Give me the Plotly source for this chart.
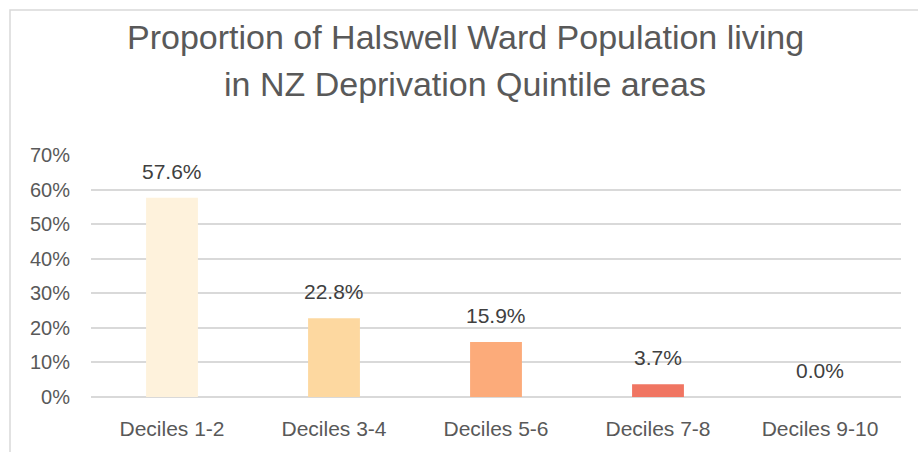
import plotly.graph_objects as go

categories = ["Deciles 1-2", "Deciles 3-4", "Deciles 5-6", "Deciles 7-8", "Deciles 9-10"]
values = [0.576, 0.228, 0.159, 0.037, 0.0]
bar_colors = ["#FEF2DC", "#FDD8A0", "#FCAB7A", "#F07562", "#D7301F"]
y_ticks = [0, 0.1, 0.2, 0.3, 0.4, 0.5, 0.6, 0.7]
y_tick_labels = ["0%", "10%", "20%", "30%", "40%", "50%", "60%", "70%"]
title_lines = ["Proportion of Halswell Ward Population living", "in NZ Deprivation Quintile areas"]

W, H = 918, 452
ML, MR, MT, MB = 91, 17, 155, 55
pw, ph = W - ML - MR, H - MT - MB

FONT = "Liberation Sans, Arial, sans-serif"

fig = go.Figure()
fig.add_trace(go.Bar(
    x=categories, y=values,
    marker=dict(color=bar_colors, line=dict(width=0)),
    width=0.32,
    hoverinfo="skip",
))

annotations = []
for c, v in zip(categories, values):
    annotations.append(dict(
        x=c, y=v, xref="x", yref="y",
        text=f"{v*100:.1f}%", showarrow=False,
        yanchor="bottom", yshift=13,
        font=dict(family=FONT, size=21, color="#404040"),
    ))

# title lines (centres in pixels from top)
title_centres = [37, 84]
for line, cy in zip(title_lines, title_centres):
    annotations.append(dict(
        x=(465 - ML) / pw, y=(H - MB - cy) / ph, xref="paper", yref="paper",
        xanchor="center", yanchor="middle", text=line, showarrow=False,
        font=dict(family=FONT, size=34, color="#595959"),
    ))

fig.update_layout(
    width=W, height=H,
    margin=dict(l=ML, r=MR, t=MT, b=MB),
    paper_bgcolor="white", plot_bgcolor="white",
    showlegend=False,
    xaxis=dict(
        showgrid=False, showline=False, zeroline=False,
        ticks="", ticklabelstandoff=17,
        tickfont=dict(family=FONT, size=21, color="#595959"),
    ),
    yaxis=dict(
        range=[0, 0.7], tickvals=y_ticks, ticktext=y_tick_labels,
        showgrid=True, gridcolor="#D9D9D9", gridwidth=1.5,
        zeroline=True, zerolinecolor="#D9D9D9", zerolinewidth=1.5,
        showline=False, ticks="", ticklabelstandoff=20,
        tickfont=dict(family=FONT, size=20, color="#595959"),
    ),
    annotations=annotations,
    shapes=[dict(
        type="rect", xref="paper", yref="paper",
        x0=(10 - ML) / pw, x1=2, y0=-1, y1=(H - MB - 10) / ph,
        line=dict(color="#D9D9D9", width=1.5), fillcolor="rgba(0,0,0,0)",
        layer="below",
    )],
)

fig.write_html(
    "out.html",
    config={"displayModeBar": False},
    post_script="document.body.style.margin='0';document.body.style.overflow='hidden';",
)
